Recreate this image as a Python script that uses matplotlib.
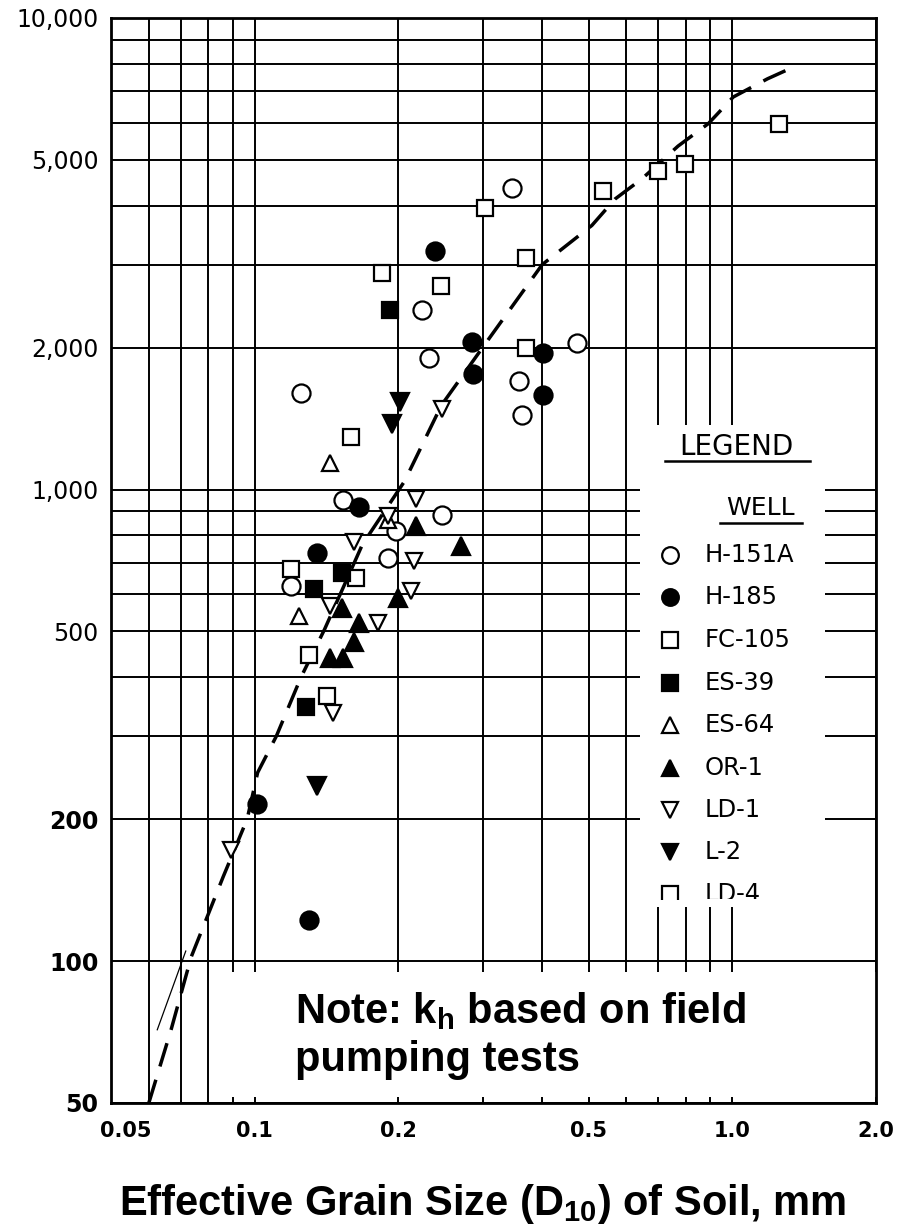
import matplotlib
matplotlib.use("Agg")
import matplotlib.pyplot as plt
from matplotlib.patches import Rectangle
from matplotlib.ticker import NullFormatter
import matplotlib.transforms as mtransforms

plt.rcParams['font.family'] = ['DejaVu Sans']
plt.rcParams['mathtext.fontset'] = 'custom'
plt.rcParams['mathtext.rm'] = 'Liberation Sans:bold'
plt.rcParams['mathtext.it'] = 'Liberation Sans:bold'
plt.rcParams['mathtext.bf'] = 'Liberation Sans:bold'

# ---------------- data ----------------
h151a_x = [0.125, 0.153, 0.247, 0.346, 0.224, 0.232, 0.472, 0.358, 0.362, 0.198, 0.190, 0.119]
h151a_y = [1600, 950, 885, 4350, 2400, 1900, 2050, 1700, 1440, 815, 715, 625]
h185_x = [0.239, 0.285, 0.287, 0.401, 0.401, 0.165, 0.135, 0.101, 0.130]
h185_y = [3200, 2060, 1760, 1950, 1590, 920, 735, 215, 122]
fc105_x = [0.303, 0.537, 0.700, 0.796, 1.25, 0.185, 0.246, 0.370, 0.370, 0.159, 0.119, 0.163, 0.130, 0.142]
fc105_y = [3950, 4300, 4740, 4900, 5950, 2880, 2700, 3100, 2000, 1290, 680, 650, 445, 365]
es39_x = [0.192, 0.152, 0.133, 0.128]
es39_y = [2400, 665, 615, 345]
es64_x = [0.144, 0.124, 0.190]
es64_y = [1140, 540, 860]
or1_x = [0.218, 0.271, 0.200, 0.152, 0.165, 0.161, 0.144, 0.153]
or1_y = [835, 760, 590, 560, 520, 475, 440, 440]
ld1_x = [0.247, 0.218, 0.190, 0.161, 0.216, 0.212, 0.144, 0.181, 0.146, 0.089]
ld1_y = [1480, 955, 880, 775, 705, 610, 565, 520, 335, 172]
l2_x = [0.201, 0.194, 0.135]
l2_y = [1530, 1380, 235]

curve_x = [0.060, 0.0668, 0.0736, 0.0859, 0.0964, 0.1014, 0.111, 0.125, 0.140, 0.168,
           0.206, 0.246, 0.30, 0.40, 0.508, 0.568, 0.647, 0.770, 0.891, 1.005, 1.185, 1.362]
curve_y = [50, 71.5, 102, 151, 200, 251, 300, 400, 505, 764,
           1042, 1509, 2000, 3000, 3630, 4130, 4560, 5350, 5970, 6800, 7430, 7920]
thin_x = [0.0625, 0.0717]
thin_y = [71.5, 105]

x_major = [0.05, 0.1, 0.2, 0.5, 1.0, 2.0]
x_major_labels = ["0.05", "0.1", "0.2", "0.5", "1.0", "2.0"]
x_minor = [0.06, 0.07, 0.08, 0.09, 0.3, 0.4, 0.6, 0.7, 0.8, 0.9]
y_major = [50, 100, 200, 500, 1000, 2000, 5000, 10000]
y_major_labels = ["50", "100", "200", "500", "1,000", "2,000", "5,000", "10,000"]
y_minor = [300, 400, 600, 700, 800, 900, 3000, 4000, 6000, 7000, 8000, 9000]

wells = ["H-151A", "H-185", "FC-105", "ES-39", "ES-64", "OR-1", "LD-1", "L-2", "LD-4"]
series = [
    (h151a_x, h151a_y, 'o', 'white', 13),
    (h185_x, h185_y, 'o', 'black', 13),
    (fc105_x, fc105_y, 's', 'white', 12),
    (es39_x, es39_y, 's', 'black', 12),
    (es64_x, es64_y, '^', 'white', 12),
    (or1_x, or1_y, '^', 'black', 13),
    (ld1_x, ld1_y, 'v', 'white', 12),
    (l2_x, l2_y, 'v', 'black', 13),
    ([], [], 's', 'white', 12),
]

# ---------------- figure ----------------
W, H = 900, 1229
fig = plt.figure(figsize=(9, 12.29), dpi=100)
ax_l, ax_r, ax_t, ax_b = 111, 876, 18, 1103
ax = fig.add_axes([ax_l / W, 1 - ax_b / H, (ax_r - ax_l) / W, (ax_b - ax_t) / H])
ax.set_xscale('log')
ax.set_yscale('log')
ax.set_xlim(0.05, 2.0)
ax.set_ylim(50, 10000)

ax.set_xticks(x_major, labels=x_major_labels)
ax.set_xticks(x_minor, minor=True)
ax.set_yticks(y_major, labels=y_major_labels)
ax.set_yticks(y_minor, minor=True)
ax.xaxis.set_minor_formatter(NullFormatter())
ax.yaxis.set_minor_formatter(NullFormatter())
ax.tick_params(which='both', length=0)
ax.tick_params(axis='x', pad=13, labelsize=15)
ax.tick_params(axis='y', pad=9, labelsize=17)
for lab in ax.get_xticklabels():
    lab.set_fontweight('bold')
for lab in ax.get_yticklabels():
    if lab.get_text() in ("50", "100", "200"):
        lab.set_fontweight('bold')
# shift "0.05" right as in reference
off = mtransforms.ScaledTranslation(15 / 100, 0, fig.dpi_scale_trans)
xl = ax.get_xticklabels()
xl[0].set_transform(xl[0].get_transform() + off)

ax.set_axisbelow(True)
ax.grid(which='both', color='black', linewidth=1.4)
for sp in ax.spines.values():
    sp.set_linewidth(2.0)
    sp.set_zorder(3)

# white boxes (legend panel and note panel)
legend_box = Rectangle((0.6915, 0.1806), 0.933 - 0.6915, 0.625 - 0.1806,
                       transform=ax.transAxes, facecolor='white', edgecolor='none', zorder=1.5)
note_box = Rectangle((0.149, 0.0055), 1.0 - 0.149, 0.1207 - 0.0055,
                     transform=ax.transAxes, facecolor='white', edgecolor='none', zorder=1.5)
ax.add_patch(legend_box)
ax.add_patch(note_box)

# curve
ax.plot(curve_x, curve_y, color='black', linewidth=2.5, linestyle=(0, (7.0, 4.0)), zorder=2)
ax.plot(thin_x, thin_y, color='black', linewidth=0.9, zorder=2)

# data points
for (xs, ys, m, fc, ms) in series:
    if xs:
        ax.plot(xs, ys, linestyle='none', marker=m, markersize=ms,
                markerfacecolor=fc, markeredgecolor='black', markeredgewidth=1.6, zorder=4)

# legend (drawn manually)
ax.text(0.818, 0.6046, "LEGEND", transform=ax.transAxes, ha='center', va='center',
        fontsize=20, zorder=5)
ax.plot([0.724, 0.914], [0.5917, 0.5917], transform=ax.transAxes, color='black', lw=1.8, zorder=5)
ax.text(0.849, 0.5484, "WELL", transform=ax.transAxes, ha='center', va='center',
        fontsize=18, zorder=5)
ax.plot([0.796, 0.903], [0.5346, 0.5346], transform=ax.transAxes, color='black', lw=1.8, zorder=5)

entry_y = [0.5051, 0.4664, 0.4267, 0.3871, 0.3484, 0.3088, 0.2700, 0.2313, 0.1926]
clip_rect = Rectangle((0.69, 0.188), 0.25, 0.5, transform=ax.transAxes, facecolor='none',
                      edgecolor='none')
ax.add_patch(clip_rect)
for name, (xs, ys, m, fc, ms), ey in zip(wells, series, entry_y):
    ln, = ax.plot([0.7307], [ey], transform=ax.transAxes, linestyle='none', marker=m,
                  markersize=ms - 1, markerfacecolor=fc, markeredgecolor='black',
                  markeredgewidth=1.6, zorder=5, clip_on=True)
    t = ax.text(0.7765, ey, name, transform=ax.transAxes, ha='left', va='center',
                fontsize=17.5, zorder=5)
    ln.set_clip_path(clip_rect)
    t.set_clip_path(clip_rect)
    t.set_clip_on(True)

# note text
fig.text(295 / W, 1 - 1023 / H, "Note: k$_{h}$ based on field", fontsize=30,
         fontweight='bold', family='Liberation Sans', ha='left', va='baseline')
fig.text(295 / W, 1 - 1071 / H, "pumping tests", fontsize=30,
         fontweight='bold', family='Liberation Sans', ha='left', va='baseline')

# x axis title
fig.text(483 / W, 1 - 1215 / H, "Effective Grain Size (D$_{10}$) of Soil, mm", fontsize=30,
         fontweight='bold', family='Liberation Sans', ha='center', va='baseline')

fig.savefig("out.png", dpi=100, facecolor='white')
